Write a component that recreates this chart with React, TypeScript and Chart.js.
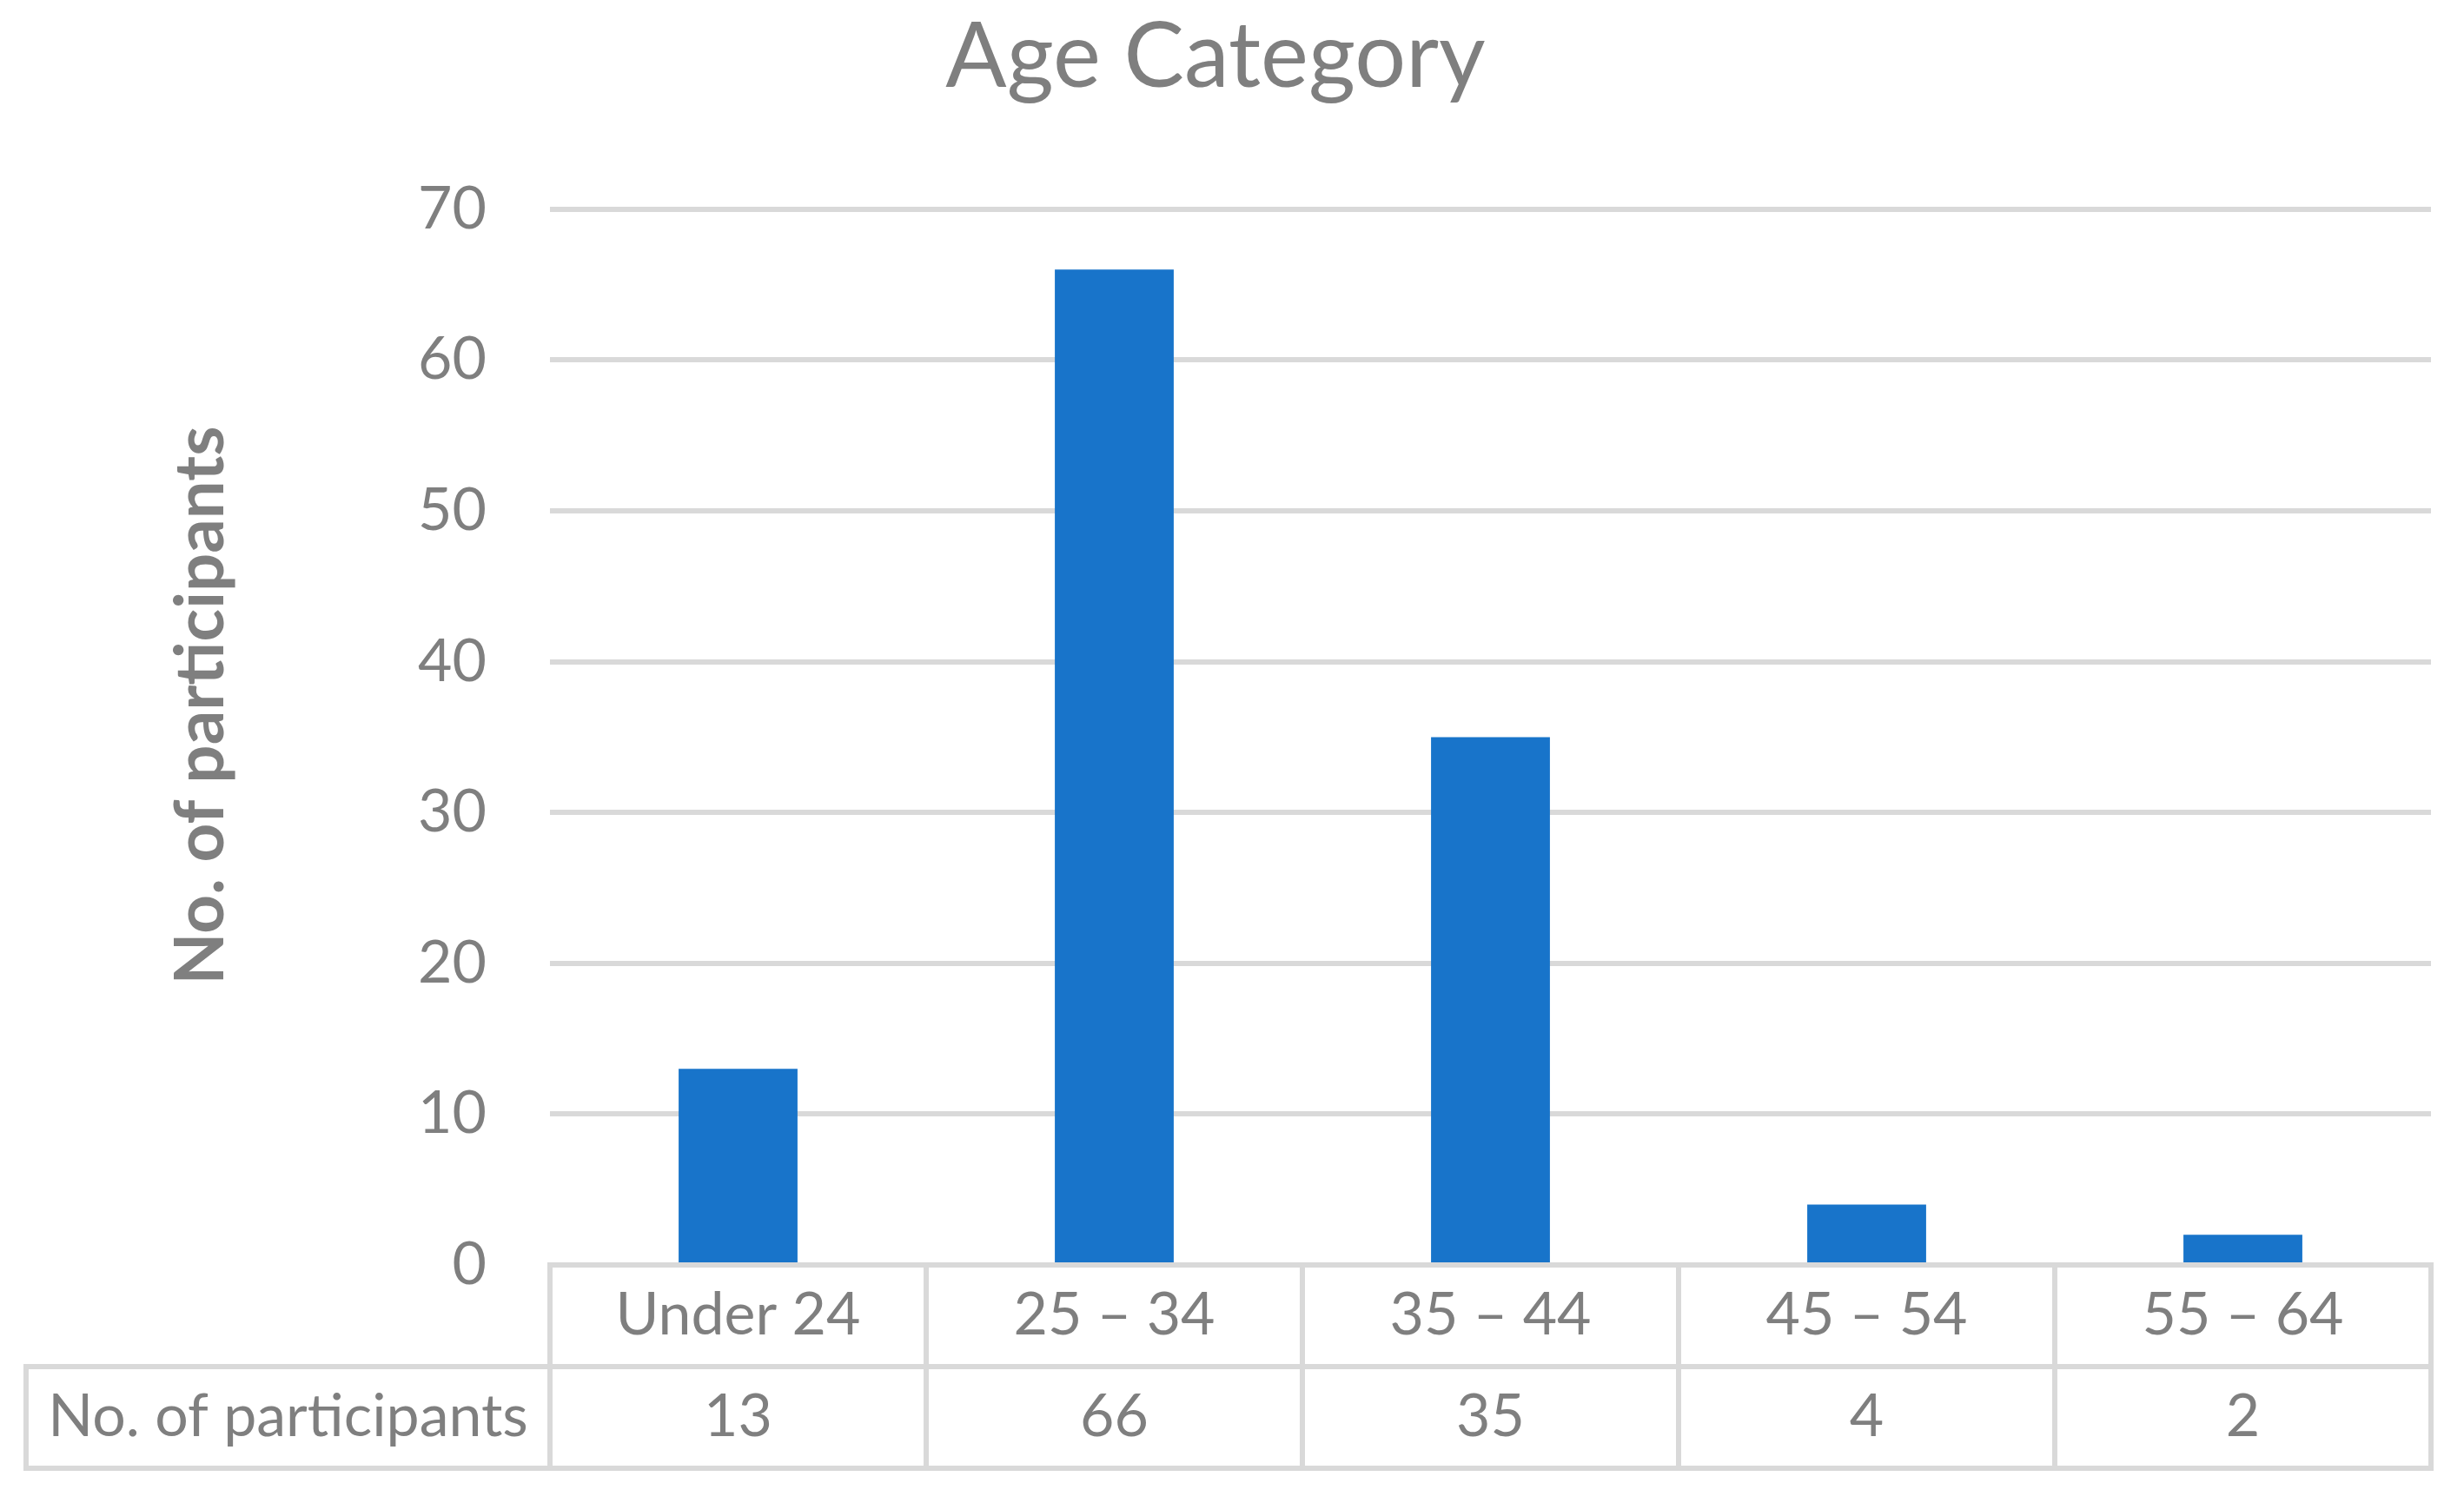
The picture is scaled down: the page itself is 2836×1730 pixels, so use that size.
import React, { useEffect, useRef } from 'react';
import { Chart, registerables } from 'chart.js';

Chart.register(...registerables);

const chartTitle = 'Age Category';
const yAxisTitle = 'No. of participants';
const seriesName = 'No. of participants';
const categories = ['Under 24', '25 – 34', '35 – 44', '45 – 54', '55 – 64'];
const participants = [13, 66, 35, 4, 2];
const yMin = 0;
const yMax = 70;
const yStep = 10;

const TEXT = '#7f7f7f';
const GRID = '#d9d9d9';
const BAR = '#1874ca';
const FONT = 'Lato';

const tablePlugin = {
  id: 'dataTable',
  afterDraw(chart: any) {
    const ctx = chart.ctx as CanvasRenderingContext2D;
    const xs = chart.scales.x;
    const area = chart.chartArea;
    const top = area.bottom;
    const rowH = 117;
    const mid = top + rowH;
    const bottom = top + rowH * 2;
    const tableLeft = 30;
    ctx.save();
    ctx.strokeStyle = GRID;
    ctx.lineWidth = 6;
    ctx.lineCap = 'square';
    ctx.beginPath();
    ctx.moveTo(area.left, top);
    ctx.lineTo(area.right, top);
    ctx.moveTo(tableLeft, mid);
    ctx.lineTo(area.right, mid);
    ctx.moveTo(tableLeft, bottom);
    ctx.lineTo(area.right, bottom);
    ctx.moveTo(tableLeft, mid);
    ctx.lineTo(tableLeft, bottom);
    for (let i = 0; i <= categories.length; i++) {
      const px = xs.getPixelForValue(i - 0.5);
      ctx.moveTo(px, top);
      ctx.lineTo(px, bottom);
    }
    ctx.stroke();

    ctx.fillStyle = TEXT;
    ctx.font = `68px ${FONT}`;
    ctx.textAlign = 'center';
    ctx.textBaseline = 'middle';
    categories.forEach((c, i) => {
      const px = xs.getPixelForValue(i);
      ctx.fillText(c, px, top + rowH / 2);
      ctx.fillText(String(participants[i]), px, mid + rowH / 2);
    });
    ctx.fillText(seriesName, (tableLeft + area.left) / 2, mid + rowH / 2);

    ctx.translate(232, 812);
    ctx.rotate(-Math.PI / 2);
    ctx.font = `bold 78px ${FONT}`;
    ctx.fillText(yAxisTitle, 0, 0);
    ctx.restore();
  },
};

export default function App() {
  const canvasRef = useRef<HTMLCanvasElement | null>(null);

  useEffect(() => {
    if (!canvasRef.current) return;
    const chart = new Chart(canvasRef.current, {
      type: 'bar',
      data: {
        labels: categories,
        datasets: [
          {
            label: seriesName,
            data: participants,
            backgroundColor: BAR,
            borderWidth: 0,
            barPercentage: 0.316,
            categoryPercentage: 1,
          },
        ],
      },
      options: {
        animation: false,
        responsive: true,
        maintainAspectRatio: false,
        devicePixelRatio: 1,
        layout: { padding: { left: 0, right: 38, top: 0, bottom: 274 } },
        plugins: {
          legend: { display: false },
          tooltip: { enabled: false },
          title: {
            display: true,
            text: chartTitle,
            color: TEXT,
            font: { family: FONT, size: 104, weight: 'normal', lineHeight: 1.2 },
            padding: { top: 4, bottom: 112 },
          },
        },
        scales: {
          x: {
            display: false,
          },
          y: {
            min: yMin,
            max: yMax,
            border: { display: false },
            grid: { color: GRID, lineWidth: 6, drawTicks: false },
            ticks: {
              stepSize: yStep,
              color: TEXT,
              padding: 73,
              font: { family: FONT, size: 68 },
            },
            afterFit: (scale: any) => {
              scale.width = 633;
            },
          },
        },
      },
      plugins: [tablePlugin],
    });
    return () => chart.destroy();
  }, []);

  return (
    <div style={{ position: 'fixed', left: 0, top: 0, width: 2836, height: 1730, background: '#fff' }}>
      <canvas ref={canvasRef} />
    </div>
  );
}
